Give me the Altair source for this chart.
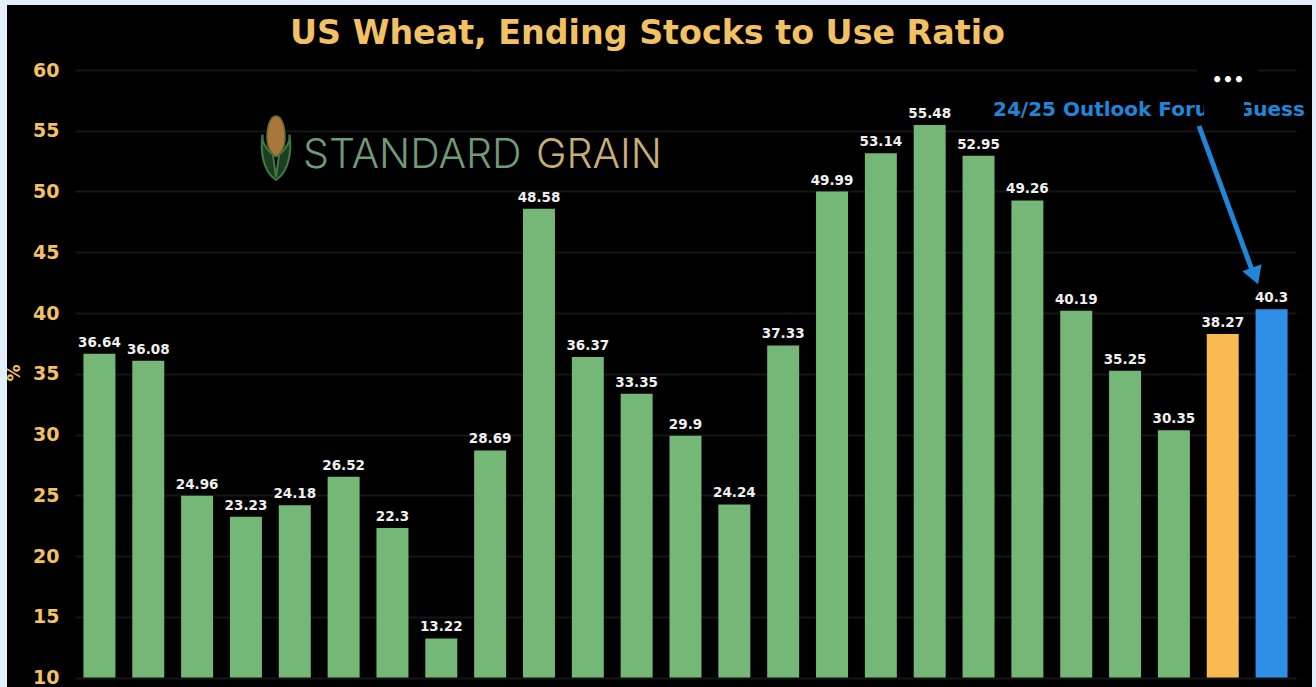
import altair as alt
import pandas as pd

seasons = ["00/01", "01/02", "02/03", "03/04", "04/05", "05/06", "06/07", "07/08", "08/09",
           "09/10", "10/11", "11/12", "12/13", "13/14", "14/15", "15/16", "16/17", "17/18",
           "18/19", "19/20", "20/21", "21/22", "22/23", "23/24", "24/25"]
ratios = [36.64, 36.08, 24.96, 23.23, 24.18, 26.52, 22.3, 13.22, 28.69, 48.58, 36.37, 33.35,
          29.9, 24.24, 37.33, 49.99, 53.14, 55.48, 52.95, 49.26, 40.19, 35.25, 30.35, 38.27, 40.3]
kinds = ["history"] * 23 + ["current", "forecast"]
kind_names = ["history", "current", "forecast"]
kind_colors = ["#74b777", "#f9bb50", "#2f8fe8"]
y_ticks = [10, 15, 20, 25, 30, 35, 40, 45, 50, 55, 60]

LEFT, TOP = 75, 70
PLOT_W, PLOT_H = 1221, 607.5
TAN = "#f2c163"
BLUE = "#1f86d8"
FRAME = "#e3eefb"
FONT = "DejaVu Sans"

bars_df = pd.DataFrame({"season": seasons, "ratio": ratios, "kind": kinds})
one_row = alt.Data(values=[{"a": 1}])


def px(v):
    return alt.value(v - LEFT)


def py(v):
    return alt.value(v - TOP)


def box(x0, x1, y0, y1, color):
    return alt.Chart(one_row).mark_rect(color=color).encode(
        x=px(x0), x2=px(x1), y=py(y0), y2=py(y1))


def label(txt, x, y, size, color, weight="bold", align="left", font=FONT, angle=0):
    return alt.Chart(one_row).mark_text(
        text=txt, fontSize=size, fontWeight=weight, color=color, align=align,
        baseline="middle", font=font, angle=angle
    ).encode(x=px(x), y=py(y))


x_scale = alt.Scale(domain=seasons, paddingInner=0.345, paddingOuter=0.1725)
y_scale = alt.Scale(domain=[10, 60], nice=False, zero=False)

# Pale frame around the black canvas
frame_left = box(0, 7, 0, 687, FRAME)
frame_top = box(0, 1316, 0, 5, FRAME)
frame_right = box(1312, 1316, 0, 687, FRAME)

axis_layer = alt.Chart(bars_df).mark_bar(opacity=0).encode(
    y=alt.Y("ratio:Q", scale=y_scale, title=None, axis=alt.Axis(
        values=y_ticks, domain=False, ticks=False, grid=True, gridColor="#161616", gridWidth=2,
        labelColor=TAN, labelFont=FONT, labelFontSize=19, labelFontWeight="bold", labelPadding=16)),
)

bars = alt.Chart(bars_df).mark_bar().encode(
    x=alt.X("season:N", sort=seasons, scale=x_scale, axis=None),
    y=alt.Y("ratio:Q", scale=y_scale),
    y2=alt.datum(10),
    color=alt.Color("kind:N", scale=alt.Scale(domain=kind_names, range=kind_colors), legend=None),
)

value_labels = alt.Chart(bars_df).mark_text(
    font=FONT, fontSize=13.5, fontWeight="bold", color="#f0f0f0", baseline="bottom", dy=-4
).encode(
    x=alt.X("season:N", sort=seasons, scale=x_scale, axis=None),
    y=alt.Y("ratio:Q", scale=y_scale),
    text=alt.Text("ratio:Q"),
)

title = label("US Wheat, Ending Stocks to Use Ratio", 647.5, 34, 33.3, TAN, align="center")
percent = label("%", 15, 373, 17, TAN, angle=270, align="center")

# Brand mark: corn cob wrapped in husk leaves, followed by the wordmark
husk = alt.Chart(one_row).mark_point(
    shape="M-0.1,0.2 C-0.35,0 -0.45,-0.2 -0.42,-0.42 C-0.5,0.1 -0.4,0.75 0,1 C0.4,0.75 0.5,0.1 0.42,-0.42 "
          "C0.45,-0.2 0.35,0 0.1,0.2 L0,0.9 Z",
    size=4096, filled=True, fill="#1d3d20", stroke="#3f7a45", strokeWidth=2, opacity=1
).encode(x=px(276), y=py(148))
cob = alt.Chart(one_row).mark_point(
    shape="M0,-1 C0.2,-1 0.3,-0.6 0.28,-0.25 C0.27,0 0.12,0.2 0,0.28 C-0.12,0.2 -0.27,0 -0.28,-0.25 "
          "C-0.3,-0.6 -0.2,-1 0,-1 Z",
    size=4096, filled=True, fill="#a9773a", stroke="#5d6b2e", strokeWidth=1.5, opacity=1
).encode(x=px(276), y=py(148))
word_one = label("STANDARD", 303, 156, 41, "#6f9b77", weight=300, font="Inter")
word_two = label("GRAIN", 536, 156, 41, "#c9ae74", weight=300, font="Inter")

# Callout for the forecast bar
callout = label("24/25 Outlook Forum Guess", 993, 109.5, 20, BLUE)
callout_patch = box(1204, 1244, 98, 120, "#000000")
grid_patch = box(1197, 1258, 66, 76, "#000000")
dots = label("•••", 1228, 81, 17, "#ffffff", align="center")
arrow_line = alt.Chart(one_row).mark_rule(color=BLUE, strokeWidth=5).encode(
    x=px(1199), x2=px(1252), y=py(126), y2=py(270))
arrow_head = alt.Chart(one_row).mark_point(
    shape="triangle-up", filled=True, fill=BLUE, opacity=1, size=420, angle=160, strokeWidth=0
).encode(x=px(1255), y=py(276))

chart = alt.layer(
    axis_layer, bars, value_labels, title, percent, husk, cob, word_one, word_two,
    callout, callout_patch, grid_patch, dots, arrow_line, arrow_head,
    frame_left, frame_top, frame_right
).resolve_scale(x="shared", y="shared").properties(
    width=PLOT_W, height=PLOT_H, background="#000000",
    padding={"left": LEFT, "top": TOP, "right": 1316 - LEFT - PLOT_W, "bottom": 687 - TOP - PLOT_H},
    autosize=alt.AutoSizeParams(type="none"),
).configure_view(stroke=None)

chart.save("out.html", embed_options={"renderer": "svg", "actions": False})
